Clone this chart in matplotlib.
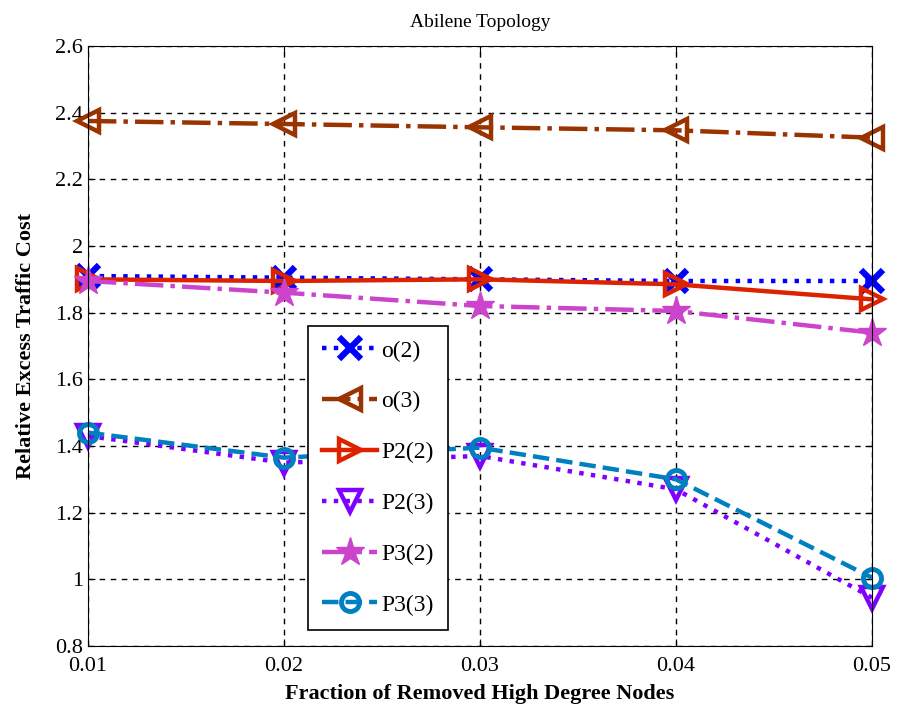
import matplotlib.pyplot as plt

fractions = [0.01, 0.02, 0.03, 0.04, 0.05]

o2 = [1.91, 1.905, 1.90, 1.895, 1.895]
o3 = [2.375, 2.366, 2.356, 2.347, 2.325]
p2_2 = [1.90, 1.895, 1.90, 1.885, 1.84]
p2_3 = [1.43, 1.35, 1.37, 1.27, 0.945]
p3_2 = [1.895, 1.86, 1.82, 1.805, 1.74]
p3_3 = [1.44, 1.365, 1.395, 1.30, 1.005]

labels = ["o(2)", "o(3)", "P2(2)", "P2(3)", "P3(2)", "P3(3)"]
xticks = [0.01, 0.02, 0.03, 0.04, 0.05]
yticks = [0.8, 1.0, 1.2, 1.4, 1.6, 1.8, 2.0, 2.2, 2.4, 2.6]
ytick_labels = ["0.8", "1", "1.2", "1.4", "1.6", "1.8", "2", "2.2", "2.4", "2.6"]

plt.rcParams["font.family"] = ["Liberation Serif", "DejaVu Serif"]

fig = plt.figure(figsize=(8.97, 7.13), dpi=100)
ax = fig.add_axes([0.098, 0.094, 0.874, 0.8415])

lw = 3.2
ms = 16
common = dict(linewidth=lw, markersize=ms, clip_on=False)
ax.plot(fractions, o2, color="#0000ff", linestyle=":", marker="x",
        markeredgewidth=4.5, label=labels[0], **common)
ax.plot(fractions, o3, color="#993300", linestyle="-.", marker="<",
        markerfacecolor="none", markeredgewidth=3.2, label=labels[1], **common)
ax.plot(fractions, p2_2, color="#dd2200", linestyle="-", marker=">",
        markerfacecolor="none", markeredgewidth=3.2, label=labels[2], **common)
ax.plot(fractions, p2_3, color="#7f00ff", linestyle=":", marker="v",
        markerfacecolor="none", markeredgewidth=3.2, label=labels[3], **common)
ax.plot(fractions, p3_2, color="#cc44cc", linestyle="-.", marker="*",
        markeredgewidth=1, label=labels[4], linewidth=lw, markersize=ms + 5, clip_on=False)
ax.plot(fractions, p3_3, color="#0080c0", linestyle="--", marker="o",
        markerfacecolor="none", markeredgewidth=3.5, label=labels[5],
        linewidth=lw, markersize=ms - 3, clip_on=False)

ax.set_xlim(0.01, 0.05)
ax.set_ylim(0.8, 2.6)
ax.set_xticks(xticks)
ax.set_xticklabels([f"{v:.2f}" for v in xticks])
ax.set_yticks(yticks)
ax.set_yticklabels(ytick_labels)
ax.tick_params(labelsize=16, direction="in", length=5, top=True, right=True)
ax.tick_params(axis="x", pad=8)
ax.grid(True, color="black", linestyle=(0, (4, 4)), linewidth=1.0)
ax.set_axisbelow(True)

ax.set_title("Abilene Topology", fontsize=14, pad=14)
ax.set_xlabel("Fraction of Removed High Degree Nodes", fontsize=16, fontweight="bold", labelpad=6)
ax.set_ylabel("Relative Excess Traffic Cost", fontsize=16, fontweight="bold", labelpad=14)

leg = ax.legend(loc="lower left", bbox_to_anchor=(0.281, 0.027), fontsize=17,
                fancybox=False, framealpha=1, edgecolor="black",
                handlelength=2.3, labelspacing=1.24, borderpad=0.6,
                handletextpad=0.2, borderaxespad=0, markerscale=1.0)
leg.get_frame().set_linewidth(1.2)

fig.savefig("out.png", dpi=100, facecolor="white")
